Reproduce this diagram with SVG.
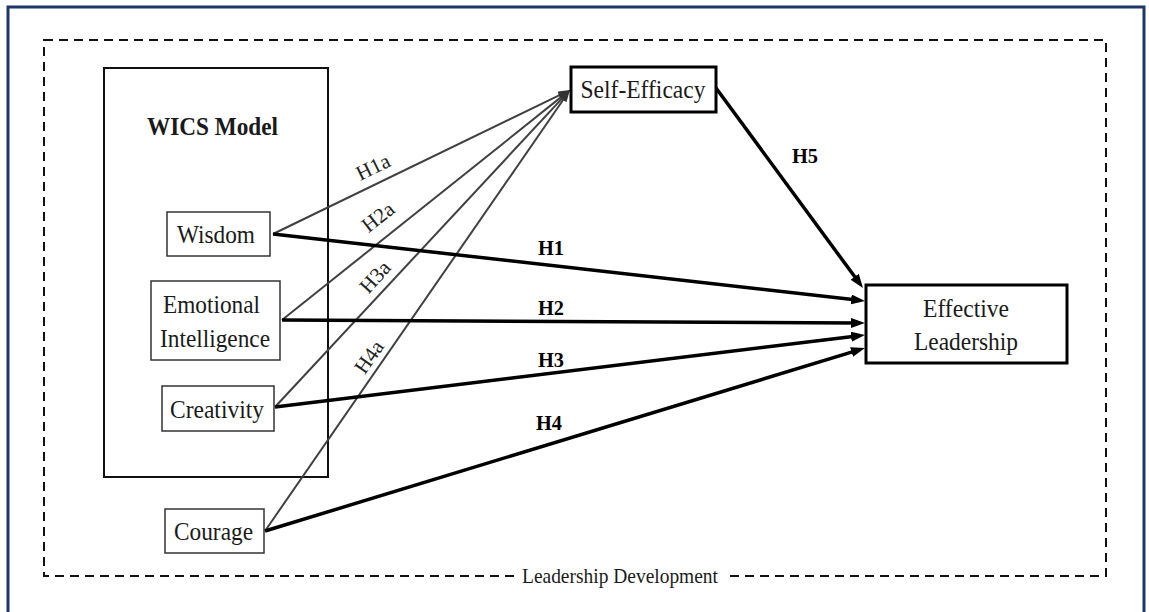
<svg xmlns="http://www.w3.org/2000/svg" width="1149" height="612" viewBox="0 0 1149 612">
  <style>
    .frame { fill: none; stroke: #1c3768; stroke-width: 3; }
    .dash { fill: none; stroke: #111; stroke-width: 2; stroke-dasharray: 9 6; }
    .group { fill: none; stroke: #111; stroke-width: 2; }
    .item { fill: #fff; stroke: #333; stroke-width: 1.5; }
    .key { fill: #fff; stroke: #000; stroke-width: 3; }
    .t { font-family: "Liberation Serif", "Times New Roman", serif; fill: #1a1a1a; }
    .node { font-size: 26px; text-anchor: middle; }
    .title { font-size: 26px; font-weight: bold; text-anchor: middle; }
    .hyp { font-size: 21px; font-weight: bold; text-anchor: middle; fill: #000; }
    .med { font-size: 21px; text-anchor: middle; fill: #222; }
    .thin { fill: none; stroke: #404040; stroke-width: 2; marker-end: url(#headThin); }
    .thick { fill: none; stroke: #000; stroke-width: 3.5; marker-end: url(#headThick); }
  </style>
  <defs>
    <marker id="headThick" markerUnits="userSpaceOnUse" markerWidth="14" markerHeight="10" refX="6" refY="5" orient="auto">
      <path d="M0,0 L14,5 L0,10 z" fill="#000"/>
    </marker>
    <marker id="headThin" markerUnits="userSpaceOnUse" markerWidth="12" markerHeight="8" refX="5" refY="4" orient="auto">
      <path d="M0,0 L12,4 L0,8 z" fill="#333"/>
    </marker>
  </defs>

  <rect width="1149" height="612" fill="#fff"/>
  <rect class="frame" x="8" y="7" width="1136" height="610"/>

  <!-- Leadership Development boundary -->
  <g id="leadership-development">
    <rect class="dash" x="44" y="40" width="1062" height="536"/>
    <rect x="514" y="566" width="212" height="20" fill="#fff"/>
    <text class="t" x="620" y="583" font-size="21" text-anchor="middle" textLength="196" lengthAdjust="spacingAndGlyphs">Leadership Development</text>
  </g>

  <!-- WICS Model container -->
  <g id="wics-model">
    <rect class="group" x="104" y="68" width="224" height="409"/>
    <text class="t title" x="212.5" y="135" textLength="131" lengthAdjust="spacingAndGlyphs">WICS Model</text>
  </g>

  <!-- Connectors -->
  <g id="connectors">
    <path class="thin" d="M273,234 L563.7,93.05"/>
    <path class="thin" d="M282,320 L564.5,94.4"/>
    <path class="thin" d="M275,407 L565.2,95.1"/>
    <path class="thin" d="M265,531 L566,95.8"/>
    <path class="thick" d="M273,234 L857.05,300.1"/>
    <path class="thick" d="M282,320 L857,323"/>
    <path class="thick" d="M275,407 L857.06,335.97"/>
    <path class="thick" d="M265,531 L857.35,350.33"/>
    <path class="thick" d="M716,88 L858.26,281.55"/>

    <text class="t med" transform="translate(373,167) rotate(-26)" dy="7">H1a</text>
    <text class="t med" transform="translate(378,217) rotate(-38)" dy="7">H2a</text>
    <text class="t med" transform="translate(375,277) rotate(-48)" dy="7">H3a</text>
    <text class="t med" transform="translate(369,357) rotate(-55)" dy="7">H4a</text>

    <text class="t hyp" x="551" y="255" textLength="26" lengthAdjust="spacingAndGlyphs">H1</text>
    <text class="t hyp" x="551" y="315" textLength="26" lengthAdjust="spacingAndGlyphs">H2</text>
    <text class="t hyp" x="551" y="367" textLength="26" lengthAdjust="spacingAndGlyphs">H3</text>
    <text class="t hyp" x="549" y="430" textLength="26" lengthAdjust="spacingAndGlyphs">H4</text>
    <text class="t hyp" x="805" y="163" textLength="26" lengthAdjust="spacingAndGlyphs">H5</text>
  </g>

  <g id="wisdom">
    <rect class="item" x="167" y="212" width="103" height="44"/>
    <text class="t node" x="216" y="243" textLength="78" lengthAdjust="spacingAndGlyphs">Wisdom</text>
  </g>

  <g id="emotional-intelligence">
    <rect class="item" x="151" y="281" width="129" height="79"/>
    <text class="t node" x="211.5" y="313" textLength="97" lengthAdjust="spacingAndGlyphs">Emotional</text>
    <text class="t node" x="215" y="347" textLength="110" lengthAdjust="spacingAndGlyphs">Intelligence</text>
  </g>

  <g id="creativity">
    <rect class="item" x="162" y="386" width="112" height="45"/>
    <text class="t node" x="217" y="418" textLength="94" lengthAdjust="spacingAndGlyphs">Creativity</text>
  </g>

  <g id="courage">
    <rect class="item" x="165" y="509" width="99" height="44"/>
    <text class="t node" x="213.5" y="540" textLength="79" lengthAdjust="spacingAndGlyphs">Courage</text>
  </g>

  <g id="self-efficacy">
    <rect class="key" x="571" y="67" width="145" height="45"/>
    <text class="t node" x="643" y="98" textLength="125" lengthAdjust="spacingAndGlyphs">Self-Efficacy</text>
  </g>

  <g id="effective-leadership">
    <rect class="key" x="866" y="285" width="201" height="78"/>
    <text class="t node" x="966" y="317" textLength="86" lengthAdjust="spacingAndGlyphs">Effective</text>
    <text class="t node" x="966" y="350" textLength="104" lengthAdjust="spacingAndGlyphs">Leadership</text>
  </g>
</svg>
